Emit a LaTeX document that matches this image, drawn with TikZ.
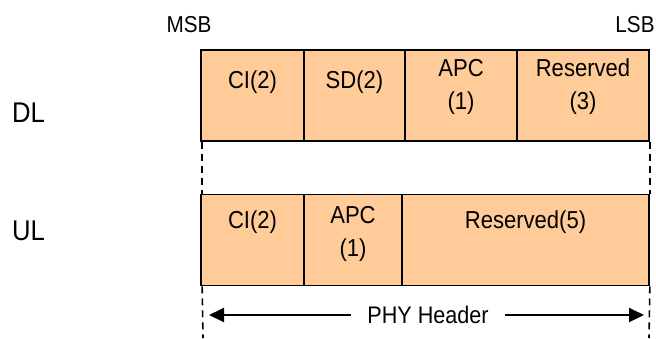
\documentclass[tikz,border=0pt]{standalone}
\usepackage{fontspec}
\setmainfont{Liberation Sans}[FakeStretch=0.9]
\usepackage{tikz}
\usetikzlibrary{arrows.meta}

\definecolor{peach}{HTML}{FFCC99}

\tikzset{
  cell/.style={draw=black, line width=1.7pt, fill=peach, minimum height=91pt, inner sep=0pt},
  celltext/.style={font=\fontsize{24.5}{33}\selectfont, align=center, inner sep=0pt},
  side/.style={font=\fontsize{28.5}{30}\selectfont, inner sep=0pt},
  bit/.style={font=\fontsize{23}{25}\selectfont, inner sep=0pt},
  guide/.style={draw=black, line width=1.6pt, dash pattern=on 7pt off 5pt},
}

\begin{document}
\begin{tikzpicture}[x=1pt, y=-1pt]
    \useasboundingbox (0,0) rectangle (656,338);
    % DL row
    \node (dlci)  [cell, minimum width=103pt] at (252.5,95.5) {};
    \node (dlsd)  [cell, minimum width=101pt] at (354.5,95.5) {};
    \node (dlapc) [cell, minimum width=112pt] at (461,95.5) {};
    \node (dlres) [cell, minimum width=132pt] at (583,95.5) {};
    \node [celltext] at ([yshift=-33pt]dlci.north) {CI(2)};
    \node [celltext] at ([yshift=-33pt]dlsd.north) {SD(2)};
    \node [celltext] at ([yshift=-38pt]dlapc.north) {APC\\(1)};
    \node [celltext] at ([yshift=-38pt]dlres.north) {Reserved\\(3)};
    % UL row
    \node (ulci)  [cell, minimum width=103pt] at (252.5,240) {};
    \node (ulapc) [cell, minimum width=98pt] at (353,240) {};
    \node (ulres) [cell, minimum width=247pt] at (525.5,240) {};
    \node [celltext] at ([yshift=-29pt]ulci.north) {CI(2)};
    \node [celltext] at ([yshift=-40pt]ulapc.north) {APC\\(1)};
    \node [celltext] at ([yshift=-29pt]ulres.north) {Reserved(5)};
    % labels
    \node (msb) [bit] at (189,25) {MSB};
    \node (lsb) [bit] at (635,25) {LSB};
    \node (dl) [side] at (28.5,113) {DL};
    \node (ul) [side] at (28.5,231) {UL};
    % guides
    \coordinate (bl) at (203,338);
    \coordinate (br) at (649,338);
    \draw[guide] ([xshift=2pt]dlci.south west) -- ([xshift=2pt]ulci.north west);
    \draw[guide] ([xshift=2pt]ulci.south west) -- (bl);
    \draw[guide] (dlres.south east) -- (ulres.north east);
    \draw[guide] (ulres.south east) -- (br);
    % header arrow
    \node (phy) [celltext, inner xsep=16pt, font=\fontsize{24}{26}\selectfont] at (428,315) {PHY Header};
    \coordinate (al) at (209,315);
    \coordinate (ar) at (644,315);
    \draw[-{Triangle[length=15pt, width=14pt]}, line width=2pt] (phy.west) -- (al);
    \draw[-{Triangle[length=15pt, width=14pt]}, line width=2pt] (phy.east) -- (ar);
  \end{tikzpicture}
\end{document}
